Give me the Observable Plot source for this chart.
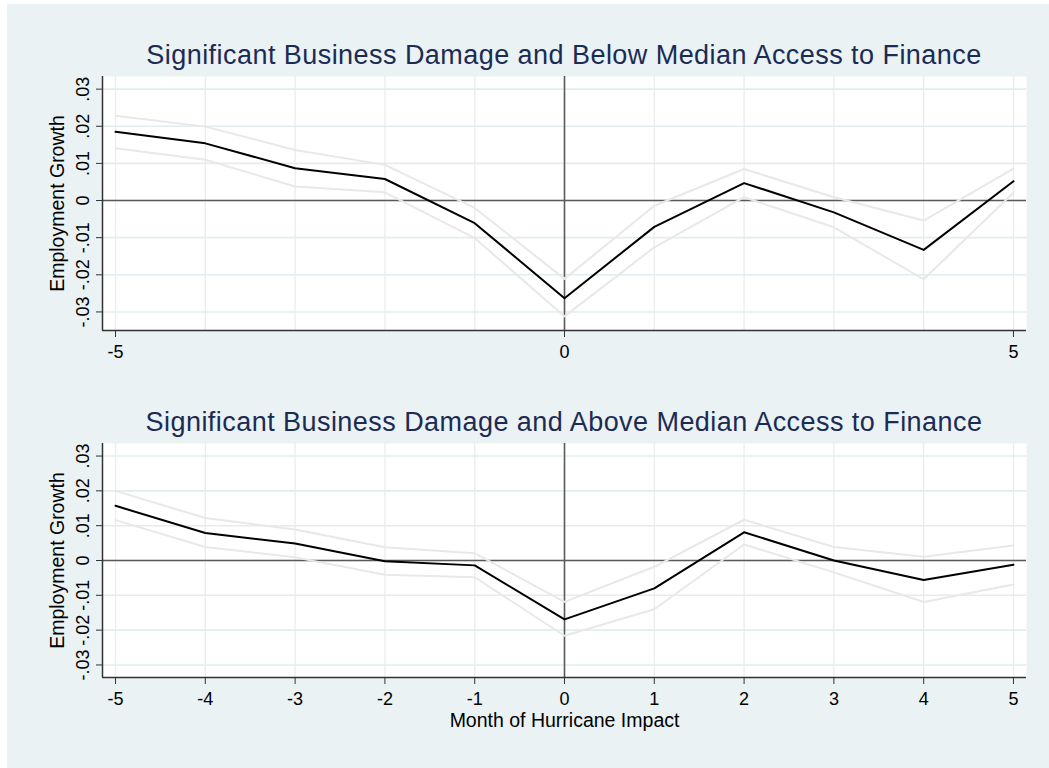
<!DOCTYPE html>
<html>
<head>
<meta charset="utf-8">
<script src="https://cdn.jsdelivr.net/npm/d3@7"></script>
<script src="https://cdn.jsdelivr.net/npm/@observablehq/plot@0.6"></script>
<style>
  html, body { margin: 0; padding: 0; background: #ffffff; }
  #page { position: relative; width: 1049px; height: 768px; overflow: hidden; font-family: "Liberation Sans", Arial, Helvetica, sans-serif; }
  #bg { position: absolute; left: 7px; top: 4px; width: 1042px; height: 764px; background: #eaf2f3; }
  .title { position: absolute; left: 102px; width: 924px; text-align: center; font-size: 27px; line-height: 27px; color: #1c2b53; letter-spacing: 0.45px; white-space: nowrap; }
  .panel { position: absolute; left: 0; }
</style>
</head>
<body>
<div id="page">
  <div id="bg"></div>
  <div class="title" id="t1" style="top:42px"></div>
  <div class="title" id="t2" style="top:409px"></div>
  <div class="panel" id="p1" style="top:60px"></div>
  <div class="panel" id="p2" style="top:420px"></div>
</div>
<script>
// ---- data ----
const months = [-5, -4, -3, -2, -1, 0, 1, 2, 3, 4, 5];

const belowCoef  = [0.0185, 0.0154, 0.0087, 0.0058, -0.0061, -0.0263, -0.0071, 0.0047, -0.0032, -0.0133, 0.0052];
const belowUpper = [0.0228, 0.0199, 0.0136, 0.0096, -0.0020, -0.0211, -0.0014, 0.0085, 0.0009, -0.0054, 0.0086];
const belowLower = [0.0141, 0.0110, 0.0038, 0.0022, -0.0101, -0.0312, -0.0126, 0.0009, -0.0072, -0.0212, 0.0021];

const aboveCoef  = [0.0157, 0.0079, 0.0049, -0.0002, -0.0014, -0.0169, -0.0080, 0.0081, 0.0000, -0.0056, -0.0012];
const aboveUpper = [0.0200, 0.0122, 0.0089, 0.0038, 0.0021, -0.0119, -0.0018, 0.0117, 0.0039, 0.0011, 0.0043];
const aboveLower = [0.0116, 0.0039, 0.0009, -0.0041, -0.0048, -0.0216, -0.0140, 0.0046, -0.0034, -0.0119, -0.0069];

const yTicks = [-0.03, -0.02, -0.01, 0, 0.01, 0.02, 0.03];
const yTickLabels = ["-.03", "-.02", "-.01", "0", ".01", ".02", ".03"];
const xTicksTop = [-5, 0, 5];
const xTicksBottom = [-5, -4, -3, -2, -1, 0, 1, 2, 3, 4, 5];

const titleTop = "Significant Business Damage and Below Median Access to Finance";
const titleBottom = "Significant Business Damage and Above Median Access to Finance";
const yTitle = "Employment Growth";
const xTitle = "Month of Hurricane Impact";

const xDomain = [-5.145, 5.145];

document.getElementById("t1").textContent = titleTop;
document.getElementById("t2").textContent = titleBottom;

function rows(coef, upper, lower) {
  return months.map((m, i) => ({month: m, coef: coef[i], upper: upper[i], lower: lower[i]}));
}

function panel({data, yDomain, xTicks, height, marginTop, marginBottom, showXTitle}) {
  const marks = [
    Plot.frame({fill: "white", stroke: "none"}),
    Plot.gridX({ticks: months, stroke: "#ececec", strokeOpacity: 1, strokeWidth: 1.3}),
    Plot.gridY({ticks: yTicks, stroke: "#e3ecee", strokeOpacity: 1, strokeWidth: 1.6}),
    Plot.ruleY([0], {stroke: "#5a5a5a", strokeWidth: 1.6}),
    Plot.ruleX([0], {stroke: "#5a5a5a", strokeWidth: 1.6}),
    Plot.line(data, {x: "month", y: "upper", stroke: "#e8e8e8", strokeWidth: 2}),
    Plot.line(data, {x: "month", y: "lower", stroke: "#e8e8e8", strokeWidth: 2}),
    Plot.line(data, {x: "month", y: "coef", stroke: "#000000", strokeWidth: 2}),
    Plot.ruleX([xDomain[0]], {stroke: "#333333", strokeWidth: 1.5}),
    Plot.ruleY([yDomain[0]], {stroke: "#333333", strokeWidth: 1.5}),
    Plot.axisY({ticks: yTicks, tickSize: 6, tickFormat: () => "", label: null, stroke: "#333333"}),
    Plot.text(yTicks, {frameAnchor: "left", y: d => d, text: (d, i) => yTickLabels[i], rotate: -90,
      dx: -19, textAnchor: "middle", lineAnchor: "middle", fontSize: 18, fill: "black"}),
    Plot.text([yTitle], {frameAnchor: "left", text: d => d, rotate: -90, dx: -44.5,
      textAnchor: "middle", lineAnchor: "middle", fontSize: 19.5, fill: "black"}),
    Plot.axisX({ticks: xTicks, tickSize: 7, tickPadding: 8, tickFormat: d => String(d),
      fontSize: 18, label: null, stroke: "#333333", fill: "black"})
  ];
  if (showXTitle) {
    marks.push(Plot.text([xTitle], {frameAnchor: "bottom", text: d => d, dy: 36,
      textAnchor: "middle", lineAnchor: "top", fontSize: 19.5, fill: "black"}));
  }
  return Plot.plot({
    width: 1049,
    height,
    marginLeft: 102,
    marginRight: 23,
    marginTop,
    marginBottom,
    style: {background: "transparent", fontFamily: "'Liberation Sans', Arial, Helvetica, sans-serif", color: "black", overflow: "visible"},
    x: {domain: xDomain},
    y: {domain: yDomain},
    marks
  });
}

document.getElementById("p1").appendChild(panel({
  data: rows(belowCoef, belowUpper, belowLower),
  yDomain: [-0.0350, 0.0334],
  xTicks: xTicksTop,
  height: 320, marginTop: 16, marginBottom: 50,
  showXTitle: false
}));

document.getElementById("p2").appendChild(panel({
  data: rows(aboveCoef, aboveUpper, aboveLower),
  yDomain: [-0.0336, 0.0336],
  xTicks: xTicksBottom,
  height: 340, marginTop: 23, marginBottom: 83,
  showXTitle: true
}));
</script>
</body>
</html>
